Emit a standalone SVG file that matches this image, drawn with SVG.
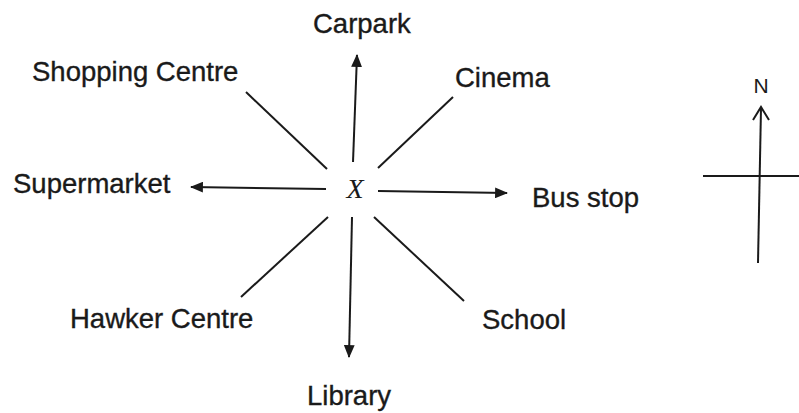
<svg xmlns="http://www.w3.org/2000/svg" width="799" height="413" viewBox="0 0 799 413">
<style>
.lbl{font-family:"Liberation Sans",Arial,sans-serif;font-size:27.5px;fill:#1a1a1a;stroke:#1a1a1a;stroke-width:0.35}
.ln{stroke:#1a1a1a;stroke-width:2;fill:none}
</style>
<defs>
<marker id="ah" viewBox="0 0 12 10" refX="11" refY="5" markerWidth="6.5" markerHeight="5.5" orient="auto" markerUnits="strokeWidth">
<path d="M0,0 L12,5 L0,10 Z" fill="#1a1a1a"/>
</marker>
</defs>
<rect width="799" height="413" fill="#fff"/>
<g id="connectors">
<line class="ln" x1="353" y1="162" x2="357" y2="55" marker-end="url(#ah)"/>
<line class="ln" x1="326" y1="189" x2="191" y2="187" marker-end="url(#ah)"/>
<line class="ln" x1="378" y1="191" x2="507" y2="193" marker-end="url(#ah)"/>
<line class="ln" x1="352" y1="217" x2="349" y2="357" marker-end="url(#ah)"/>
<line class="ln" x1="246" y1="92" x2="327" y2="169"/>
<line class="ln" x1="453" y1="97" x2="378" y2="168"/>
<line class="ln" x1="328" y1="217" x2="241" y2="297"/>
<line class="ln" x1="374" y1="217" x2="464" y2="301"/>
</g>
<g id="center"><text x="355" y="198" text-anchor="middle" style="font-family:'Liberation Serif','Times New Roman',serif;font-style:italic;font-size:28px;fill:#1a1a1a">X</text></g>
<g id="carpark"><text class="lbl" x="313" y="33">Carpark</text></g>
<g id="shopping-centre"><text class="lbl" x="32" y="81">Shopping Centre</text></g>
<g id="cinema"><text class="lbl" x="455" y="87">Cinema</text></g>
<g id="supermarket"><text class="lbl" x="13" y="193">Supermarket</text></g>
<g id="bus-stop"><text class="lbl" x="532" y="207">Bus stop</text></g>
<g id="hawker-centre"><text class="lbl" x="70" y="328">Hawker Centre</text></g>
<g id="school"><text class="lbl" x="482" y="329">School</text></g>
<g id="library"><text class="lbl" x="307" y="405">Library</text></g>
<g id="compass">
<text x="761" y="93" text-anchor="middle" style="font-family:'Liberation Sans',Arial,sans-serif;font-size:21px;fill:#1a1a1a">N</text>
<line class="ln" x1="761" y1="108" x2="758" y2="263"/>
<polyline class="ln" points="753,120 761,107 769,120"/>
<line class="ln" x1="703" y1="176" x2="799" y2="176"/>
</g>
</svg>
